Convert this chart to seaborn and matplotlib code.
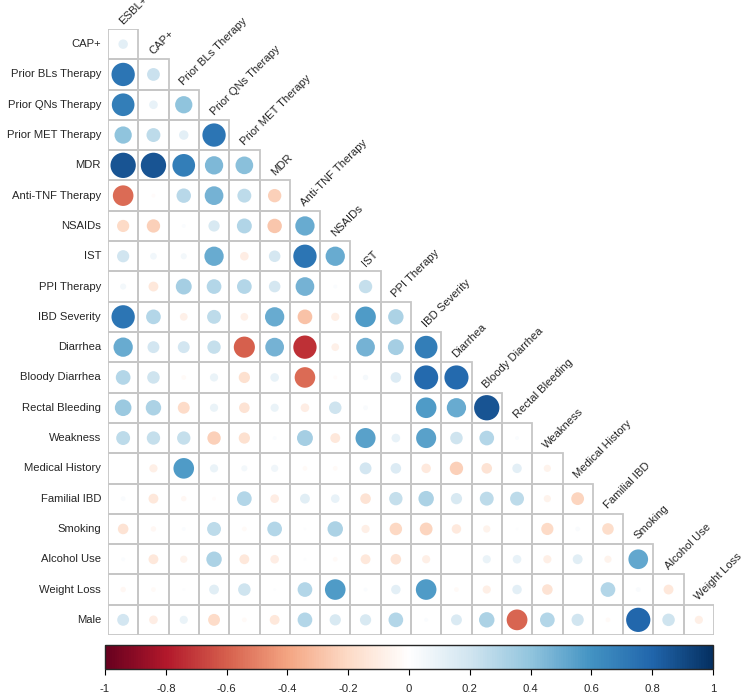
import numpy as np
import pandas as pd
import matplotlib
matplotlib.use("Agg")
import matplotlib.pyplot as plt
from matplotlib.colors import LinearSegmentedColormap
from matplotlib.patches import Circle, Rectangle
import seaborn as sns

# variable names (rows start at CAP+, columns stop at Weight Loss)
variables = ["ESBL+", "CAP+", "Prior BLs Therapy", "Prior QNs Therapy",
             "Prior MET Therapy", "MDR", "Anti-TNF Therapy", "NSAIDs", "IST",
             "PPI Therapy", "IBD Severity", "Diarrhea", "Bloody Diarrhea",
             "Rectal Bleeding", "Weakness", "Medical History", "Familial IBD",
             "Smoking", "Alcohol Use", "Weight Loss", "Male"]

# lower triangle of the correlation matrix, one list per row
lower = [
    [0.12],                                                         # CAP+
    [0.73, 0.22],                                                   # Prior BLs
    [0.69, 0.10, 0.40],                                             # Prior QNs
    [0.40, 0.26, 0.12, 0.73],                                       # Prior MET
    [0.86, 0.86, 0.69, 0.45, 0.42],                                 # MDR
    [-0.57, -0.02, 0.28, 0.47, 0.26, -0.24],                        # Anti-TNF
    [-0.20, -0.24, 0.02, 0.17, 0.30, -0.28, 0.50],                  # NSAIDs
    [0.20, 0.06, 0.05, 0.50, -0.10, 0.18, 0.73, 0.50],              # IST
    [0.05, -0.13, 0.34, 0.29, 0.29, 0.18, 0.47, 0.02, 0.24],        # PPI
    [0.73, 0.29, -0.08, 0.26, -0.08, 0.50, -0.29, -0.09, 0.57, 0.32],
    [0.50, 0.19, 0.19, 0.24, -0.60, 0.47, -0.73, -0.08, 0.47, 0.34, 0.69],
    [0.29, 0.21, -0.03, 0.09, -0.17, 0.10, -0.57, -0.02, 0.04, 0.15, 0.78, 0.78],
    [0.37, 0.32, -0.19, 0.09, -0.15, 0.09, -0.10, 0.21, 0.03, 0.0, 0.57, 0.50, 0.86],
    [0.26, 0.24, 0.24, -0.24, -0.17, 0.02, 0.34, -0.13, 0.54, 0.10, 0.54, 0.21, 0.29, 0.02],
    [0.0, -0.09, 0.57, 0.09, 0.05, 0.07, -0.03, -0.03, 0.19, 0.15, -0.12, -0.24, -0.15,
     0.12, -0.07],
    [0.03, -0.13, -0.04, -0.02, 0.29, -0.10, 0.13, 0.10, -0.15, 0.24, 0.32, 0.17, 0.26,
     0.26, -0.07, -0.22],
    [-0.15, -0.04, 0.02, 0.26, -0.03, 0.29, 0.01, 0.32, -0.09, -0.21, -0.22, -0.12, -0.07,
     0.01, -0.20, 0.03, -0.18],
    [0.02, -0.13, -0.07, 0.32, -0.13, -0.10, 0.01, -0.03, -0.13, -0.15, -0.09, 0.0, 0.09,
     0.10, -0.09, 0.13, -0.07, 0.52],
    [-0.04, -0.03, 0.01, 0.13, 0.21, 0.01, 0.29, 0.57, 0.02, 0.12, 0.57, -0.03, -0.09,
     0.12, -0.15, 0.0, 0.29, 0.03, -0.13],
    [0.19, -0.10, 0.09, -0.19, -0.03, -0.13, 0.29, 0.17, 0.17, 0.29, 0.02, 0.16, 0.32,
     -0.58, 0.29, 0.20, -0.03, 0.79, 0.21, -0.09],                  # Male
]

cbar_ticks = [-1, -0.8, -0.6, -0.4, -0.2, 0, 0.2, 0.4, 0.6, 0.8, 1]
cbar_labels = ["-1", "-0.8", "-0.6", "-0.4", "-0.2", "0", "0.2", "0.4", "0.6", "0.8", "1"]

# corrplot style RdBu palette
rdbu = LinearSegmentedColormap.from_list("corr_rdbu", [
    "#67001F", "#B2182B", "#D6604D", "#F4A582", "#FDDBC7", "#FFFFFF",
    "#D1E5F0", "#92C5DE", "#4393C3", "#2166AC", "#053061"])

row_names = variables[1:]
col_names = variables[:-1]
n = len(row_names)
mat = np.full((n, n), np.nan)
for i, vals in enumerate(lower):
    mat[i, :len(vals)] = vals
df = pd.DataFrame(mat, index=row_names, columns=col_names)
mask = np.isnan(mat)

sns.set_style("white")
plt.rcParams["font.family"] = ["Liberation Sans", "DejaVu Sans"]

fig = plt.figure(figsize=(7.44, 6.98), dpi=100)
ax = fig.add_axes([108 / 744, 1 - 635 / 698, 606 / 744, 606 / 698])

# white cells for the lower triangle
sns.heatmap(np.zeros_like(mat), mask=mask,
            cmap=LinearSegmentedColormap.from_list("w", ["white", "white"]),
            linewidths=0, cbar=False, ax=ax,
            xticklabels=False, yticklabels=row_names)

for i in range(n):
    for j in range(n):
        r = df.iat[i, j]
        if np.isnan(r):
            continue
        # grey cell border
        ax.add_patch(Rectangle((j, i), 1, 1, facecolor="none", edgecolor="#c6c6c6",
                               linewidth=1.3, zorder=2))
        rad = 0.45 * np.sqrt(abs(r))
        ax.add_patch(Circle((j + 0.5, i + 0.5), rad, facecolor=rdbu((r + 1) / 2),
                            edgecolor="none", zorder=3))

ax.set_yticklabels(row_names, rotation=0, fontsize=8.1)
ax.tick_params(axis="y", length=0, pad=5)
for s in ax.spines.values():
    s.set_visible(False)

# diagonal column labels
for j, name in enumerate(col_names):
    ax.text(j + 0.55, j - 0.1, name, rotation=45, rotation_mode="anchor",
            ha="left", va="bottom", fontsize=8.1, clip_on=False)

# colour bar
cax = fig.add_axes([105 / 744, 1 - 669 / 698, 608 / 744, 24 / 698])
sm = plt.cm.ScalarMappable(cmap=rdbu, norm=plt.Normalize(-1, 1))
cb = fig.colorbar(sm, cax=cax, orientation="horizontal", ticks=cbar_ticks)
cb.ax.set_xticklabels(cbar_labels, fontsize=8.1)
cb.ax.tick_params(length=4, width=0.8, pad=7, color="black")
cb.outline.set_linewidth(1)

fig.savefig("out.png", dpi=100)
